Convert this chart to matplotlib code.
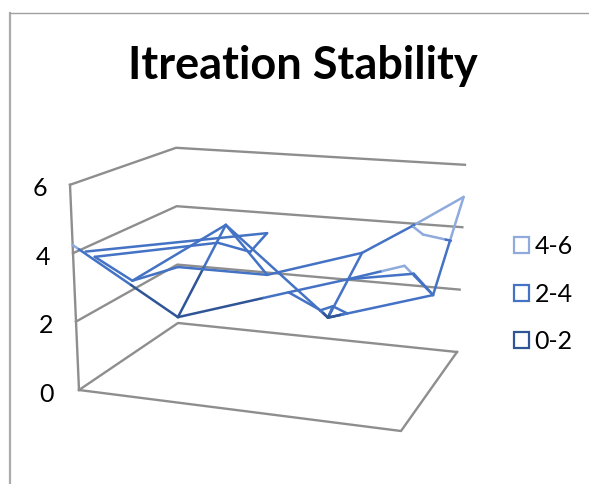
import matplotlib
matplotlib.use('Agg')
import matplotlib.pyplot as plt
from matplotlib.patches import Patch

plt.rcParams['font.family'] = ['Lato', 'DejaVu Sans']

title = 'Itreation Stability'
z_ticks = [0, 2, 4, 6]
band_labels = ['4-6', '2-4', '0-2']
band_colors = ['#8FAADC', '#4472C4', '#2F5597']

# traces of the surface: (category position 0-1, series position 0-1, value)
trace_a = [(0, 0, 4.24), (0, 1, 0.2), (0.172, 1, 3.49), (0.02, 0.5, 2.41), (0.17, 0.5, 2.98),
           (0.46, 0.5, 3.0), (0.652, 1, 2.92), (0.825, 1, 3.92), (1, 1, 4.97),
           (1, 0.5, 2.87), (0.66, 0.5, 1.88), (0.652, 1, 2.92)]
trace_b = [(0, 0.12, 3.88), (0.317, 1, 3.32), (0.405, 0.5, 3.66), (0.3, 0.5, 3.85),
           (0, 0.205, 3.6), (0.02, 0.5, 2.41)]
trace_c = [(0.172, 1, 3.49), (0.46, 0.5, 3.0)]
trace_d = [(0.172, 1, 3.49), (0.66, 0.5, 1.88)]
trace_e = [(0, 1, 0.2), (0.53, 0.5, 2.53), (0.722, 0.5, 3.1), (0.99, 0, 4.58), (1, 0.5, 2.87)]
trace_f = [(0.53, 0.5, 2.53), (0.635, 0.5, 2.08), (0.675, 0.5, 2.24), (0.722, 0.5, 2.07), (0.66, 0.5, 1.88)]
trace_g = [(0.722, 0.5, 3.1), (0.935, 0.5, 3.45), (1, 0.5, 2.87)]
trace_h = [(0.825, 1, 3.92), (0.96, 0.5, 4.64), (0.99, 0.85, 3.85)]
trace_i = [(0.635, 0.5, 2.08), (0.66, 0.5, 1.88), (0.675, 0.5, 2.24)]
traces = [trace_a, trace_b, trace_c, trace_d, trace_e, trace_f, trace_g, trace_h, trace_i]

# where the corners of the 3d box land on the picture
floor = {(0, 0): (79, 390), (1, 0): (401, 431), (0, 1): (178, 323), (1, 1): (457, 352)}
rise = {(0, 0): (-1.5, -34.2), (1, 0): (1.5, -36.0), (0, 1): (-0.33, -29.2), (1, 1): (1.33, -31.2)}


def project(u, v, z):
    px, py = 0, 0
    for (cu, cv), (fx, fy) in floor.items():
        w = (u if cu else 1 - u) * (v if cv else 1 - v)
        hx, hy = rise[(cu, cv)]
        px += w * (fx + z * hx)
        py += w * (fy + z * hy)
    return px, py


def band_color(z):
    if z >= 4:
        return band_colors[0]
    if z >= 2:
        return band_colors[1]
    return band_colors[2]


fig = plt.figure(figsize=(5.89, 4.84), dpi=100)
ax = fig.add_axes([0, 0, 1, 1])
ax.set_xlim(0, 589)
ax.set_ylim(484, 0)
ax.axis('off')

# chart border, cut off by the screenshot
ax.plot([10, 10], [484, 12.5], color='#ABABAB', lw=1.6, solid_joinstyle='miter')
ax.plot([10, 589], [12.5, 12.5], color='#A0A0A0', lw=1.0)

grid_color = '#8E8E8E'
for z in z_ticks:
    pts = [project(0, 0, z), project(0, 1, z), project(1, 1, z)]
    ax.plot([p[0] for p in pts], [p[1] for p in pts], color=grid_color, lw=1.7)
    lx, ly = project(0, 0, z)
    ax.text(lx - 30 if z else lx - 32, ly + 4, str(z), fontsize=18, ha='center', va='center', color='black')
pts = [project(0, 0, 0), project(1, 0, 0), project(1, 1, 0)]
ax.plot([p[0] for p in pts], [p[1] for p in pts], color=grid_color, lw=1.7)
pts = [project(0, 0, 0), project(0, 0, 6)]
ax.plot([p[0] for p in pts], [p[1] for p in pts], color=grid_color, lw=1.7)

# surface lines, split where they cross a band edge
for trace in traces:
    for a, b in zip(trace[:-1], trace[1:]):
        ax1, ay1 = project(*a)
        ax2, ay2 = project(*b)
        cuts = [0, 1]
        for level in (2, 4):
            if (a[2] - level) * (b[2] - level) < 0:
                cuts.append((level - a[2]) / (b[2] - a[2]))
        cuts.sort()
        for t1, t2 in zip(cuts[:-1], cuts[1:]):
            mid = a[2] + (b[2] - a[2]) * (t1 + t2) / 2
            ax.plot([ax1 + (ax2 - ax1) * t1, ax1 + (ax2 - ax1) * t2],
                    [ay1 + (ay2 - ay1) * t1, ay1 + (ay2 - ay1) * t2],
                    color=band_color(mid), lw=1.8, solid_capstyle='round')

ax.text(303, 66, title, fontsize=32.5, fontweight='bold', ha='center', va='center', color='black')

handles = [Patch(facecolor='white', edgecolor=c, lw=1.6, label=l) for l, c in zip(band_labels, band_colors)]
ax.legend(handles=handles, loc='center left', bbox_to_anchor=(509 / 589, 1 - 294 / 484), frameon=False,
          fontsize=18, handlelength=0.6, handleheight=0.6, handletextpad=0.22, labelspacing=0.98,
          borderpad=0.2, borderaxespad=0)

fig.savefig('out.png', dpi=100)
